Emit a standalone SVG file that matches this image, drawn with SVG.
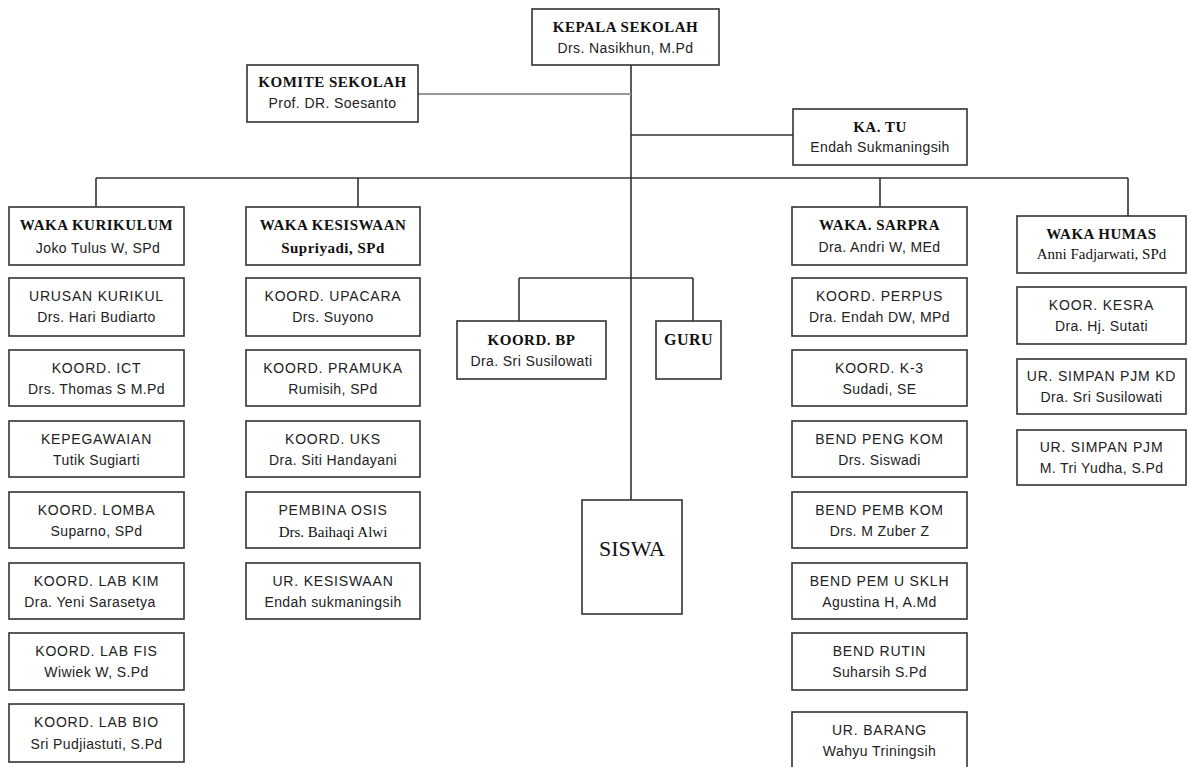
<svg xmlns="http://www.w3.org/2000/svg" width="1190" height="767" viewBox="0 0 1190 767">
<style>
.b{fill:#fff;stroke:#333;stroke-width:1.6}
.ln{fill:none;stroke:#333;stroke-width:1.6}
.gl{fill:none;stroke:#999;stroke-width:2}
.t{font-family:"Liberation Serif",serif;font-weight:bold;font-size:15px;fill:#111;text-anchor:middle;letter-spacing:0.5px}
.r{font-family:"Liberation Serif",serif;font-size:15px;fill:#111;text-anchor:middle}
.s{font-family:"Liberation Sans",Arial,sans-serif;font-size:14px;fill:#222;text-anchor:middle;letter-spacing:0.4px}
.u{font-family:"Liberation Sans",Arial,sans-serif;font-size:14px;fill:#222;text-anchor:middle;letter-spacing:0.8px}
</style>
<rect width="1190" height="767" fill="#fff"/>
<g id="connectors">
<path class="ln" d="M631 65V500"/>
<path class="gl" d="M418 94H631"/>
<path class="ln" d="M631 135H793"/>
<path class="ln" d="M96 178H1128M96 178V207M358 178V207M880 178V207M1128 178V216"/>
<path class="ln" d="M519 278H693M519 278V321M693 278V321"/>
</g>
<g id="kepala"><rect class="b" x="532" y="9" width="187" height="56"/><text class="t" x="625.5" y="32">KEPALA SEKOLAH</text><text class="s" x="625.5" y="53">Drs. Nasikhun, M.Pd</text></g>
<g id="komite"><rect class="b" x="247" y="65" width="171" height="57"/><text class="t" x="332.5" y="87">KOMITE SEKOLAH</text><text class="s" x="332.5" y="108">Prof. DR. Soesanto</text></g>
<g id="katu"><rect class="b" x="793" y="109" width="174" height="56"/><text class="t" x="880" y="132">KA. TU</text><text class="s" x="880" y="152">Endah Sukmaningsih</text></g>

<g id="waka-kurikulum"><rect class="b" x="9" y="207" width="175" height="58"/><text class="t" x="96.5" y="230">WAKA KURIKULUM</text><text class="s" x="98" y="253">Joko Tulus W, SPd</text></g>
<g id="urusan-kurikul"><rect class="b" x="9" y="278" width="175" height="58"/><text class="u" x="96.5" y="301">URUSAN KURIKUL</text><text class="s" x="96.5" y="322">Drs. Hari Budiarto</text></g>
<g id="koord-ict"><rect class="b" x="9" y="350" width="175" height="56"/><text class="u" x="96.5" y="373">KOORD. ICT</text><text class="s" x="96.5" y="394">Drs. Thomas S M.Pd</text></g>
<g id="kepegawaian"><rect class="b" x="9" y="421" width="175" height="56"/><text class="u" x="96.5" y="444">KEPEGAWAIAN</text><text class="s" x="96.5" y="465">Tutik Sugiarti</text></g>
<g id="koord-lomba"><rect class="b" x="9" y="492" width="175" height="56"/><text class="u" x="96.5" y="515">KOORD. LOMBA</text><text class="s" x="96.5" y="536">Suparno, SPd</text></g>
<g id="koord-lab-kim"><rect class="b" x="9" y="563" width="175" height="56"/><text class="u" x="96.5" y="586">KOORD. LAB KIM</text><text class="s" x="90" y="607">Dra. Yeni Sarasetya</text></g>
<g id="koord-lab-fis"><rect class="b" x="9" y="633" width="175" height="57"/><text class="u" x="96.5" y="656">KOORD. LAB FIS</text><text class="s" x="96.5" y="677">Wiwiek W, S.Pd</text></g>
<g id="koord-lab-bio"><rect class="b" x="9" y="704" width="175" height="58"/><text class="u" x="96.5" y="727">KOORD. LAB BIO</text><text class="s" x="96.5" y="749">Sri Pudjiastuti, S.Pd</text></g>

<g id="waka-kesiswaan"><rect class="b" x="246" y="207" width="174" height="58"/><text class="t" x="333" y="230">WAKA KESISWAAN</text><text class="t" x="333" y="253">Supriyadi, SPd</text></g>
<g id="koord-upacara"><rect class="b" x="246" y="278" width="174" height="58"/><text class="u" x="333" y="301">KOORD. UPACARA</text><text class="s" x="333" y="322">Drs. Suyono</text></g>
<g id="koord-pramuka"><rect class="b" x="246" y="350" width="174" height="56"/><text class="u" x="333" y="373">KOORD. PRAMUKA</text><text class="s" x="333" y="394">Rumisih, SPd</text></g>
<g id="koord-uks"><rect class="b" x="246" y="421" width="174" height="56"/><text class="u" x="333" y="444">KOORD. UKS</text><text class="s" x="333" y="465">Dra. Siti Handayani</text></g>
<g id="pembina-osis"><rect class="b" x="246" y="492" width="174" height="56"/><text class="u" x="333" y="515">PEMBINA OSIS</text><text class="r" x="333" y="537">Drs. Baihaqi Alwi</text></g>
<g id="ur-kesiswaan"><rect class="b" x="246" y="563" width="174" height="56"/><text class="u" x="333" y="586">UR. KESISWAAN</text><text class="s" x="333" y="607">Endah sukmaningsih</text></g>

<g id="koord-bp"><rect class="b" x="457" y="321" width="149" height="58"/><text class="t" x="531.5" y="345">KOORD. BP</text><text class="s" x="531.5" y="366">Dra. Sri Susilowati</text></g>
<g id="guru"><rect class="b" x="656" y="321" width="65" height="58"/><text class="t" x="688.5" y="345" style="font-size:16px">GURU</text></g>
<g id="siswa"><rect class="b" x="582" y="500" width="100" height="114"/><text class="r" x="632" y="556" style="font-size:22px">SISWA</text></g>

<g id="waka-sarpra"><rect class="b" x="792" y="207" width="175" height="58"/><text class="t" x="879.5" y="230">WAKA. SARPRA</text><text class="s" x="879.5" y="252">Dra.  Andri W, MEd</text></g>
<g id="koord-perpus"><rect class="b" x="792" y="278" width="175" height="58"/><text class="u" x="879.5" y="301">KOORD. PERPUS</text><text class="s" x="879.5" y="322">Dra. Endah DW, MPd</text></g>
<g id="koord-k3"><rect class="b" x="792" y="350" width="175" height="56"/><text class="u" x="879.5" y="373">KOORD. K-3</text><text class="s" x="879.5" y="394">Sudadi, SE</text></g>
<g id="bend-peng-kom"><rect class="b" x="792" y="421" width="175" height="56"/><text class="u" x="879.5" y="444">BEND PENG KOM</text><text class="s" x="879.5" y="465">Drs. Siswadi</text></g>
<g id="bend-pemb-kom"><rect class="b" x="792" y="492" width="175" height="56"/><text class="u" x="879.5" y="515">BEND PEMB KOM</text><text class="s" x="879.5" y="536">Drs. M Zuber Z</text></g>
<g id="bend-pem-u-sklh"><rect class="b" x="792" y="563" width="175" height="56"/><text class="u" x="879.5" y="586">BEND PEM U SKLH</text><text class="s" x="879.5" y="607">Agustina H, A.Md</text></g>
<g id="bend-rutin"><rect class="b" x="792" y="633" width="175" height="57"/><text class="u" x="879.5" y="656">BEND RUTIN</text><text class="s" x="879.5" y="677">Suharsih S.Pd</text></g>
<g id="ur-barang"><rect class="b" x="792" y="712" width="175" height="56"/><text class="u" x="879.5" y="735">UR. BARANG</text><text class="s" x="879.5" y="756">Wahyu Triningsih</text></g>

<g id="waka-humas"><rect class="b" x="1017" y="216" width="169" height="57"/><text class="t" x="1101.5" y="239">WAKA HUMAS</text><text class="r" x="1101.5" y="259">Anni Fadjarwati, SPd</text></g>
<g id="koor-kesra"><rect class="b" x="1017" y="287" width="169" height="57"/><text class="u" x="1101.5" y="310">KOOR. KESRA</text><text class="s" x="1101.5" y="331">Dra. Hj. Sutati</text></g>
<g id="ur-simpan-pjm-kd"><rect class="b" x="1017" y="359" width="169" height="55"/><text class="u" x="1101.5" y="381">UR. SIMPAN PJM KD</text><text class="s" x="1101.5" y="402">Dra. Sri Susilowati</text></g>
<g id="ur-simpan-pjm"><rect class="b" x="1017" y="430" width="169" height="55"/><text class="u" x="1101.5" y="452">UR. SIMPAN PJM</text><text class="s" x="1101.5" y="473">M. Tri Yudha, S.Pd</text></g>
</svg>
